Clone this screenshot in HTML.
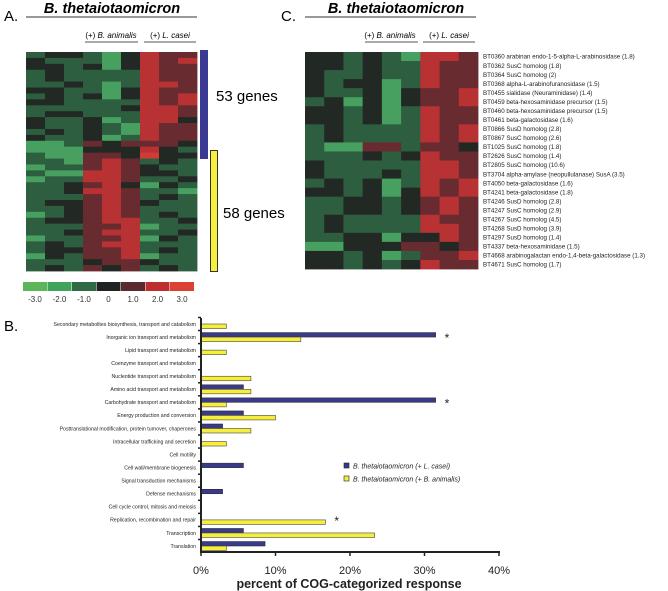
<!DOCTYPE html>
<html><head><meta charset="utf-8"><style>
body{margin:0;background:#fff;}
svg{display:block;font-family:"Liberation Sans",sans-serif;}
</style></head><body>
<svg id="fig" width="668" height="591" viewBox="0 0 668 591" xmlns="http://www.w3.org/2000/svg">
<g>
<text x="4" y="21" font-size="15">A.</text>
<text x="112" y="13" font-size="14.5" font-weight="bold" font-style="italic" text-anchor="middle">B. thetaiotaomicron</text>
<line x1="26" y1="17" x2="197" y2="17" stroke="#333" stroke-width="1"/>
<text x="111" y="38" font-size="8" text-anchor="middle">(+) <tspan font-style="italic">B. animalis</tspan></text>
<line x1="85" y1="42" x2="138" y2="42" stroke="#555"/>
<text x="170" y="38" font-size="8" text-anchor="middle">(+) <tspan font-style="italic">L. casei</tspan></text>
<line x1="144" y1="42" x2="196" y2="42" stroke="#555"/>
</g>
<g id="heatA"></g>
<rect x="200" y="50" width="8" height="109" fill="#3a3a94"/>
<rect x="210.5" y="150.5" width="7" height="121" fill="#f7ef3a" stroke="#333"/>
<text x="216" y="101" font-size="15">53 genes</text>
<text x="223" y="218" font-size="15">58 genes</text>
<g id="cbar"></g>

<g>
<text x="281" y="21" font-size="15">C.</text>
<text x="396" y="13" font-size="14.5" font-weight="bold" font-style="italic" text-anchor="middle">B. thetaiotaomicron</text>
<line x1="305" y1="17" x2="476" y2="17" stroke="#333"/>
<text x="390" y="38" font-size="8" text-anchor="middle">(+) <tspan font-style="italic">B. animalis</tspan></text>
<line x1="365" y1="42" x2="418" y2="42" stroke="#555"/>
<text x="449" y="38" font-size="8" text-anchor="middle">(+) <tspan font-style="italic">L. casei</tspan></text>
<line x1="423" y1="42" x2="475" y2="42" stroke="#555"/>
</g>
<g id="heatC"></g>

<text x="4" y="331" font-size="15">B.</text>
<g id="chartB"></g>
</svg>
<script>
const NS="http://www.w3.org/2000/svg";
function mk(tag,attrs,parent){const e=document.createElementNS(NS,tag);for(const k in attrs)e.setAttribute(k,attrs[k]);parent.appendChild(e);return e;}
const scaleColors=["#5db55a","#3fa35a","#2f6a45","#1f2421","#5a2a2e","#be2e30","#dc4032"];
const scaleLabels=["-3.0","-2.0","-1.0","0","1.0","2.0","3.0"];
const heatColors={"-3":"#52b060","-2":"#48a060","-1":"#2e5e40","0":"#222823","1":"#682b30","2":"#b83234","3":"#d23a34"};

const heatAValues=[
[-1,0,0,-1,-2,0,2,1,1],[0,-1,-1,-1,-2,0,2,1,2],[0,0,-1,0,-2,0,2,1,1],[-1,0,-1,-1,-1,-1,2,1,1],
[-1,0,-1,-1,-1,-1,2,1,1],[-1,-1,0,-1,-2,-1,2,2,1],[0,0,-1,-1,-2,0,2,1,1],[-1,0,-1,0,-2,0,2,1,2],
[0,0,-1,-1,-1,-1,2,1,2],[-1,-1,-1,-1,-1,0,2,2,1],[-1,0,0,-1,-1,-1,2,2,1],[0,-1,-1,0,-2,-1,2,2,0],
[0,-1,-1,0,-1,-2,2,1,1],[-1,0,-1,0,-1,-2,2,1,1],[0,-1,-1,0,-2,-1,2,1,1],[-2,-2,-1,1,0,1,1,1,0],
[-2,-2,-2,0,0,0,2,0,-1],[-1,-2,-2,1,1,0,3,0,0],[-1,-1,-2,1,2,1,-1,0,-1],[-2,-1,-1,1,2,1,0,-1,-1],
[-1,-2,-2,2,2,1,0,0,-1],[-2,-1,-1,2,2,1,-1,-1,0],[-1,-1,0,1,2,0,-2,0,-1],[-1,-1,0,2,2,1,-1,-1,-2],
[-1,-1,-1,1,2,1,-1,0,-1],[-1,0,0,1,2,1,0,-1,-1],[-1,-1,0,1,2,1,-1,-1,-1],[-2,-1,0,1,2,1,-1,0,-1],
[-1,0,0,1,2,2,-1,-1,0],[-1,-1,-1,1,1,2,-2,-1,-1],[-1,-1,0,1,2,2,-1,-1,0],[-2,-1,-1,1,1,2,-2,0,-1],
[-1,0,-1,1,2,2,-1,-1,-1],[-1,0,0,1,1,2,-1,0,-1],[-2,0,-1,1,1,2,-2,-1,-1],[-1,-1,-1,0,1,1,0,-1,-1],
[-1,0,-1,1,0,1,-1,0,-1]];

const heatCGenes=["BT0360 arabinan endo-1-5-alpha-L-arabinosidase (1.8)","BT0362 SusC homolog (1.8)","BT0364 SusC homolog (2)","BT0368 alpha-L-arabinofuranosidase (1.5)","BT0455 sialidase (Neuraminidase) (1.4)","BT0459 beta-hexosaminidase precursor (1.5)","BT0460 beta-hexosaminidase precursor (1.5)","BT0461 beta-galactosidase (1.6)","BT0866 SusD homolog (2.8)","BT0867 SusC homolog (2.6)","BT1025 SusC homolog (1.8)","BT2626 SusC homolog (1.4)","BT2805 SusC homolog (10.6)","BT3704 alpha-amylase (neopullulanase) SusA (3.5)","BT4050 beta-galactosidase (1.6)","BT4241 beta-galactosidase (1.8)","BT4246 SusD homolog (2.8)","BT4247 SusC homolog (2.9)","BT4267 SusC homolog (4.5)","BT4268 SusD homolog (3.9)","BT4297 SusD homolog (1.4)","BT4337 beta-hexosaminidase (1.5)","BT4668 arabinogalactan endo-1,4-beta-galactosidase (1.3)","BT4671 SusC homolog (1.7)"];
const heatCValues=[
[0,0,-1,0,-1,-2,2,2,1],[0,0,-1,0,-1,-1,2,1,1],[0,-1,-1,0,-1,-1,2,1,1],[0,-1,0,0,-2,-1,2,1,1],
[0,-1,-1,0,-2,0,1,1,2],[-1,0,-2,0,-2,0,1,1,2],[0,0,-1,0,-2,-1,2,1,1],[0,0,-1,0,-2,-1,2,1,1],
[-1,0,-1,-1,-1,-1,2,1,2],[-1,0,-1,-1,-1,-1,2,1,2],[-1,-2,-2,1,1,-1,1,1,0],[-1,-1,-1,0,-1,0,2,1,1],
[0,-1,-1,-1,-1,-1,2,2,1],[0,-1,-1,-1,0,-1,2,2,1],[-1,0,-1,0,-2,-1,2,1,2],[0,0,-1,0,-2,0,2,1,2],
[-1,-1,0,0,-1,0,1,2,1],[-1,-1,0,0,-1,0,1,2,1],[-1,0,-1,-1,-1,-1,2,1,1],[-1,0,-1,-1,-1,-1,2,2,1],
[-1,-1,0,0,-2,0,0,2,1],[-2,-2,0,0,0,1,1,0,1],[0,0,-1,0,-2,-1,1,1,2],[0,0,-1,0,-1,0,2,1,1]];

const cogCategories=["Secondary metabolites biosynthesis, transport and catabolism","Inorganic ion transport and metabolism","Lipid transport and metabolism","Coenzyme transport and metabolism","Nucleotide transport and metabolism","Amino acid transport and metabolism","Carbohydrate transport and metabolism","Energy production and conversion","Posttranslational modification, protein turnover, chaperones","Intracellular trafficking and secretion","Cell motility","Cell wall/membrane biogenesis","Signal transduction mechanisms","Defense mechanisms","Cell cycle control, mitosis and meiosis","Replication, recombination and repair","Transcription","Translation"];
const caseiValues=[0,31.5,0,0,0,5.7,31.5,5.7,2.9,0,0,5.7,0,2.9,0,0,5.7,8.6];
const animalisValues=[3.4,13.4,3.4,0,6.7,6.7,3.4,10.0,6.7,3.4,0,0,0,0,0,16.7,23.3,3.4];
const starred=[1,6,15];
const xTicks=[0,10,20,30,40];
const xTickLabels=["0%","10%","20%","30%","40%"];

function drawHeat(g,vals,x0,y0,w,h,name){
  const rows=vals.length,cols=vals[0].length,cw=w/cols,rh=h/rows;
  vals.forEach((row,i)=>row.forEach((v,j)=>{
    const r=mk('rect',{x:x0+j*cw,y:y0+i*rh,width:cw+0.4,height:rh+0.4,fill:heatColors[String(v)]},g);
    
    
  }));
}
drawHeat(document.getElementById('heatA'),heatAValues,26,52,171,219,'heatmap-a');
const hc=document.getElementById('heatC');
drawHeat(hc,heatCValues,305,52,173,217,'heatmap-c');
const rhC=217/heatCGenes.length;
heatCGenes.forEach((t,i)=>{
  const e=mk('text',{x:483,y:52+(i+0.5)*rhC+2.2,'font-size':6.2,fill:'#222'},hc);
  e.textContent=t;
  
  
});
const cb=document.getElementById('cbar');
scaleColors.forEach((c,i)=>{
  const r=mk('rect',{x:23+i*24.5,y:282,width:24,height:9,fill:c},cb);
  
  
  const t=mk('text',{x:35+i*24.5,y:302,'font-size':8,'text-anchor':'middle',fill:'#333'},cb);
  t.textContent=scaleLabels[i];
  
  
});

// chart B
const gB=document.getElementById('chartB');
const X0=201,PX=7.45,C0=324,SP=13.06;
const xs=v=>X0+v*PX;
const yc=i=>C0+i*SP;
cogCategories.forEach((c,i)=>{
  const t=mk('text',{x:196,y:yc(i)+1.8,'font-size':5.2,'text-anchor':'end',fill:'#222'},gB);
  t.textContent=c;
  
  
  if(caseiValues[i]>0){const b=mk('rect',{x:X0,y:yc(i)-4.5,width:xs(caseiValues[i])-X0,height:4.5,fill:'#3a3a8a',stroke:'#222','stroke-width':0.5},gB);
    
    }
  if(animalisValues[i]>0){const b=mk('rect',{x:X0,y:yc(i),width:xs(animalisValues[i])-X0,height:4.5,fill:'#f5ee3a',stroke:'#444','stroke-width':0.6},gB);
    
    }
  mk('line',{x1:X0-3,x2:X0,y1:yc(i)-SP/2,y2:yc(i)-SP/2,stroke:'#222','stroke-width':1.5},gB);
});
starred.forEach(i=>{
  const v=Math.max(caseiValues[i],animalisValues[i]);
  const s=mk('text',{x:xs(v)+9,y:yc(i)+5,'font-size':12,fill:'#222'},gB);
  s.textContent='*';
  
  
});
mk('line',{x1:X0,x2:X0,y1:318,y2:553,stroke:'#222','stroke-width':2},gB);
mk('line',{x1:X0,x2:xs(40)+1,y1:552,y2:552,stroke:'#222','stroke-width':2},gB);
xTicks.forEach((v,i)=>{
  mk('line',{x1:xs(v),x2:xs(v),y1:552,y2:556,stroke:'#222','stroke-width':1.5},gB);
  const t=mk('text',{x:xs(v),y:574,'font-size':11,'text-anchor':'middle',fill:'#222'},gB);
  t.textContent=xTickLabels[i];
  
  
});
const xt=mk('text',{x:349,y:588,'font-size':12.5,'font-weight':'bold','text-anchor':'middle',fill:'#222'},gB);
xt.textContent='percent of COG-categorized response';


const leg=[["#3a3a8a","(+ L. casei)"],["#f5ee3a","(+ B. animalis)"]];
leg.forEach((l,i)=>{
  const y=466+i*13;
  const r=mk('rect',{x:344,y:y-3,width:5,height:5,fill:l[0],stroke:'#222','stroke-width':0.6},gB);
  
  
  const t=mk('text',{x:353,y:y+2.5,'font-size':7,fill:'#222','font-style':'italic'},gB);
  t.textContent='B. thetaiotaomicron '+l[1];
  
  
});
</script>
</body></html>
